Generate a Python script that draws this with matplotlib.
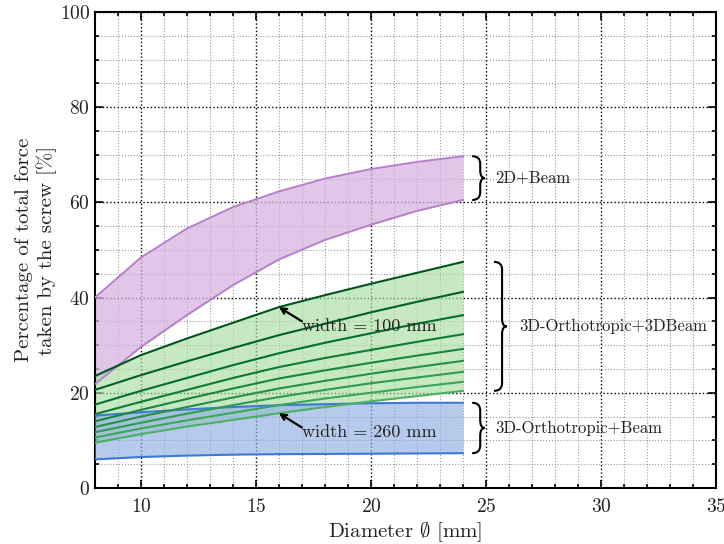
import numpy as np
import matplotlib
matplotlib.use("Agg")
import matplotlib.pyplot as plt
from matplotlib.path import Path
from matplotlib.patches import PathPatch
from matplotlib.ticker import MultipleLocator

plt.rcParams['font.family'] = 'serif'
plt.rcParams['font.serif'] = ['cmr10', 'DejaVu Serif']
plt.rcParams['mathtext.fontset'] = 'cm'
plt.rcParams['axes.formatter.use_mathtext'] = True

# ---- data ----
diam = [8, 10, 12, 14, 16, 18, 20, 22, 24]

beam2d_upper = [40.0, 48.4, 54.5, 59.0, 62.3, 65.0, 67.0, 68.5, 69.7]
beam2d_lower = [21.8, 29.6, 36.3, 42.6, 48.0, 52.1, 55.3, 58.2, 60.5]

widths = [100, 120, 140, 160, 180, 200, 220, 240, 260]
ortho3d_3dbeam = [
    [23.5, 27.9, 31.4, 34.7, 38.0, 40.5, 42.9, 45.2, 47.5],
    [20.6, 23.7, 26.6, 29.4, 32.1, 34.5, 36.9, 39.1, 41.2],
    [17.5, 20.4, 23.1, 25.8, 28.3, 30.5, 32.5, 34.5, 36.3],
    [15.5, 18.1, 20.6, 23.1, 25.4, 27.3, 29.0, 30.7, 32.3],
    [14.0, 16.4, 18.7, 20.9, 23.0, 24.7, 26.3, 27.8, 29.2],
    [12.8, 15.0, 17.0, 19.0, 20.9, 22.5, 24.0, 25.4, 26.7],
    [11.7, 13.7, 15.6, 17.4, 19.1, 20.6, 22.0, 23.2, 24.4],
    [10.6, 12.5, 14.2, 15.8, 17.4, 18.8, 20.0, 21.2, 22.3],
    [9.5, 11.3, 12.9, 14.3, 15.7, 17.0, 18.2, 19.3, 20.4],
]

ortho3d_beam_upper = [15.2, 15.9, 16.5, 17.0, 17.4, 17.6, 17.8, 17.9, 17.9]
ortho3d_beam_lower = [6.0, 6.5, 6.8, 7.0, 7.1, 7.15, 7.2, 7.25, 7.3]

group_labels = ['2D+Beam', '3D-Orthotropic+3DBeam', '3D-Orthotropic+Beam']

TXT = '#222222'

# ---- figure ----
fig = plt.figure(figsize=(7.24, 5.44), dpi=100)
ax = fig.add_axes([0.131, 0.103, 0.858, 0.875])

x = np.array(diam)

# purple band
ax.fill_between(x, beam2d_lower, beam2d_upper, color='#d6b4e0', alpha=0.75, lw=0, zorder=2)
ax.plot(x, beam2d_upper, color='#b67fcc', lw=1.4, zorder=4)
ax.plot(x, beam2d_lower, color='#b67fcc', lw=1.4, zorder=4)

# green band
ax.fill_between(x, ortho3d_3dbeam[-1], ortho3d_3dbeam[0], color='#a8dea0', alpha=0.65, lw=0, zorder=2)
cmap = plt.get_cmap('Greens')
n = len(widths)
for i, vals in enumerate(ortho3d_3dbeam):
    c = cmap(0.95 - 0.35 * i / (n - 1))
    ax.plot(x, vals, color=c, lw=1.5, zorder=5)

# blue band
ax.fill_between(x, ortho3d_beam_lower, ortho3d_beam_upper, color='#8fb0e3', alpha=0.65, lw=0, zorder=3)
ax.plot(x, ortho3d_beam_upper, color='#3d78d6', lw=1.5, zorder=4)
ax.plot(x, ortho3d_beam_lower, color='#3d78d6', lw=1.5, zorder=4)

# annotations
top = ortho3d_3dbeam[0]
bot = ortho3d_3dbeam[-1]
i16 = diam.index(16)
ax.annotate('', xy=(16, top[i16]), xytext=(17.0, top[i16] - 3.0),
            arrowprops=dict(arrowstyle='->', lw=1.6, color='black', shrinkA=0, shrinkB=0), zorder=6)
ax.text(17.0, top[i16] - 4.0, 'width = %d mm' % widths[0], fontsize=13, ha='left', va='center',
        color=TXT, zorder=6)
ax.annotate('', xy=(16, bot[i16]), xytext=(17.0, bot[i16] - 3.0),
            arrowprops=dict(arrowstyle='->', lw=1.6, color='black', shrinkA=0, shrinkB=0), zorder=6)
ax.text(17.0, bot[i16] - 4.0, 'width = %d mm' % widths[-1], fontsize=13, ha='left', va='center',
        color=TXT, zorder=6)


def brace(ax, x0, y0, y1, w=0.35, d=0.2, r=1.6):
    ym = 0.5 * (y0 + y1)
    xv = x0 + w
    verts = [(x0, y1), (xv, y1), (xv, y1 - r),
             (xv, ym + r), (xv, ym), (xv + d, ym),
             (xv, ym), (xv, ym - r),
             (xv, y0 + r), (xv, y0), (x0, y0)]
    codes = [Path.MOVETO, Path.CURVE3, Path.CURVE3,
             Path.LINETO, Path.CURVE3, Path.CURVE3,
             Path.CURVE3, Path.CURVE3,
             Path.LINETO, Path.CURVE3, Path.CURVE3]
    p = PathPatch(Path(verts, codes), fill=False, lw=1.5, color='black', clip_on=False, zorder=6)
    ax.add_patch(p)
    return xv + d, ym

bx, by = brace(ax, 24.4, beam2d_lower[-1], beam2d_upper[-1])
ax.text(bx + 0.45, by, group_labels[0], fontsize=12, ha='left', va='center', color=TXT)
bx, by = brace(ax, 25.35, bot[-1], top[-1])
ax.text(bx + 0.55, by, group_labels[1], fontsize=12, ha='left', va='center', color=TXT)
bx, by = brace(ax, 24.4, ortho3d_beam_lower[-1], ortho3d_beam_upper[-1])
ax.text(bx + 0.45, by, group_labels[2], fontsize=12, ha='left', va='center', color=TXT)

# axes styling
ax.set_xlim(8, 35)
ax.set_ylim(0, 100)
ax.xaxis.set_major_locator(MultipleLocator(5))
ax.xaxis.set_minor_locator(MultipleLocator(1))
ax.yaxis.set_major_locator(MultipleLocator(20))
ax.yaxis.set_minor_locator(MultipleLocator(5))
ax.tick_params(which='both', direction='in', top=True, right=True, labelsize=14, width=1.2,
               labelcolor=TXT)
ax.tick_params(which='major', length=6)
ax.tick_params(which='minor', length=3)
ax.tick_params(axis='x', which='major', pad=7)
ax.grid(which='major', ls=':', color='black', lw=1.0, zorder=0)
ax.grid(which='minor', ls=':', color='#9a9a9a', lw=0.8, zorder=0)
ax.set_axisbelow(True)
for s in ax.spines.values():
    s.set_linewidth(1.5)

ax.set_xlabel(r'Diameter $\emptyset$ [mm]', fontsize=15, labelpad=3, color=TXT)
ax.set_ylabel('Percentage of total force\ntaken by the screw [%]', fontsize=15, labelpad=2, color=TXT)

fig.savefig('out.png', dpi=100)
